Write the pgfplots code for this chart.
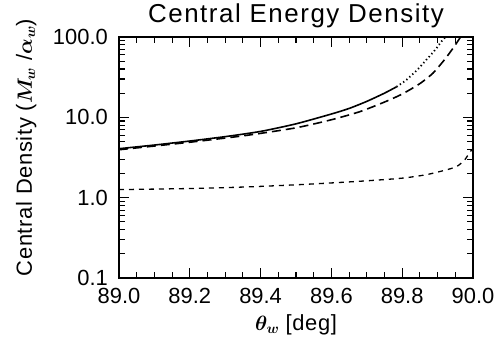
\documentclass[border=0pt]{standalone}
\usepackage{fontspec}
\setmainfont{Liberation Sans}
\newfontfamily\titlefont[LetterSpace=6]{Liberation Sans}
\newfontfamily\labfont[LetterSpace=3]{Liberation Sans}
\usepackage{amsmath}
\usepackage{pgfplots}
\pgfplotsset{compat=1.18}
\begin{document}
\begin{tikzpicture}
\begin{axis}[
  scale only axis, width=354bp, height=241bp,
  xmin=89, xmax=90, ymode=log, ymin=0.1, ymax=100,
  axis line style={draw=black, line width=1.2bp},
  tick style={draw=black, line width=1.3bp, solid},
  major tick style={draw=black, line width=1.3bp},
  minor tick style={draw=black, line width=1.1bp},
  major tick length=10bp, minor tick length=6bp,
  tick align=inside,
  xtick={89,89.2,89.4,89.6,89.8,90},
  xticklabels={89.0,89.2,89.4,89.6,89.8,90.0},
  minor x tick num=3,
  ytick={0.1,1,10,100},
  yticklabels={0.1,1.0,10.0,100.0},
  tick label style={font=\fontsize{22}{22}\selectfont, inner sep=1bp},
  xticklabel style={yshift=-9bp},
  yticklabel style={xshift=-10bp},
  title={\titlefont Central Energy Density},
  title style={font=\fontsize{26}{26}\selectfont, inner sep=0pt, at={(axis description cs:0.5,1.0373)}, anchor=base},
  xlabel={$\boldsymbol{\theta_w}$ \labfont[deg]},
  xlabel style={font=\fontsize{22}{22}\selectfont, inner sep=0pt, at={(axis description cs:0.5,-0.195)}, anchor=center},
  ylabel={\labfont Central Density ($\boldsymbol{M_w}$ /$\boldsymbol{\alpha_w}$)},
  ylabel style={font=\fontsize{22}{22}\selectfont, inner sep=0pt, at={(axis description cs:-0.262,0.5415)}, anchor=center, rotate=0},
]
% solid
\addplot[black, line width=1.6bp, smooth, tension=0.4] coordinates {
(89.00,4.07) (89.10,4.52) (89.20,5.07) (89.30,5.75) (89.40,6.68)
(89.50,8.3) (89.60,11.0) (89.65,12.9) (89.70,15.8)
(89.75,20.0) (89.784,24.0)};
% dotted continuation
\addplot[black, line width=1.8bp, dash pattern=on 1.3bp off 2.7bp, smooth, tension=0.4] coordinates {
(89.784,24.0) (89.81,28.8) (89.84,38) (89.87,53) (89.895,70.8) (89.91,87) (89.922,100)};
% long dashed
\addplot[black, line width=1.6bp, dash pattern=on 9bp off 5bp, smooth, tension=0.4] coordinates {
(89.00,3.95) (89.20,4.9) (89.36,5.96) (89.50,7.41) (89.60,9.33) (89.68,11.75)
(89.75,15.5) (89.80,19.5) (89.85,26.3) (89.887,35.5) (89.92,52.5) (89.945,74) (89.965,100)};
% short dashed
\addplot[black, line width=1.3bp, dash pattern=on 5bp off 5bp, smooth, tension=0.4] coordinates {
(89.00,1.26) (89.20,1.30) (89.36,1.36) (89.52,1.46) (89.68,1.6) (89.80,1.75)
(89.87,1.94) (89.93,2.25) (89.955,2.46) (89.975,2.9) (89.99,3.6) (89.997,4.0)};
\end{axis}
\path (-119bp,-70bp) rectangle (380bp,278bp);
\end{tikzpicture}
\end{document}
